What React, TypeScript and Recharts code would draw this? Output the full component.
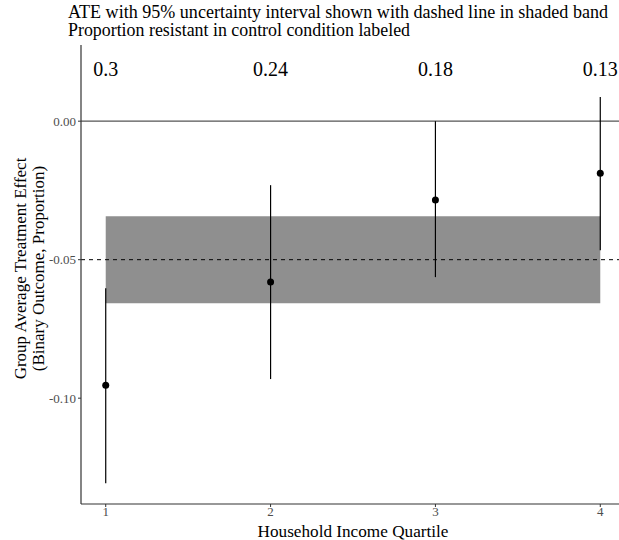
import {
  ComposedChart,
  Scatter,
  ErrorBar,
  XAxis,
  YAxis,
  ReferenceArea,
  ReferenceLine,
} from "recharts";

const quartiles = [1, 2, 3, 4];
const ate = [-0.0953, -0.0581, -0.0285, -0.0188];
const lower = [-0.1307, -0.0931, -0.0563, -0.0466];
const upper = [-0.0603, -0.0231, 0.0, 0.0087];
const controlProp = ["0.3", "0.24", "0.18", "0.13"];

const overallAte = -0.05;
const overallLow = -0.0657;
const overallHigh = -0.0343;
const labelY = 0.019;

const yTicks = [-0.1, -0.05, 0];

const subtitle1 = "ATE with 95% uncertainty interval shown with dashed line in shaded band";
const subtitle2 = "Proportion resistant in control condition labeled";

const FONT = "Liberation Serif, Times New Roman, serif";

const points = quartiles.map((q, i) => ({
  q,
  ate: ate[i],
  err: [ate[i] - lower[i], upper[i] - ate[i]],
}));

const labels = quartiles.map((q, i) => ({ q, y: labelY, text: controlProp[i] }));

const YLabel = (props: any) => {
  const vb = props.viewBox || {};
  const cy = vb.y + vb.height / 2 - 6;
  return (
    <g style={{ fontFamily: FONT }} fontSize={17} fill="#000">
      <text x={26} y={cy} textAnchor="middle" transform={`rotate(-90, 26, ${cy})`}>
        Group Average Treatment Effect
      </text>
      <text x={44} y={cy} textAnchor="middle" transform={`rotate(-90, 44, ${cy})`}>
        (Binary Outcome, Proportion)
      </text>
    </g>
  );
};

const App = () => {
  return (
    <div style={{ position: "absolute", left: 0, top: 0, width: 619, height: 540, overflow: "hidden", background: "#fff", fontFamily: FONT }}>
      <svg width={619} height={42} style={{ position: "absolute", left: 0, top: 0 }}>
        <g style={{ fontFamily: FONT }} fontSize={18} fill="#000">
          <text x={68} y={18} textLength={540} lengthAdjust="spacingAndGlyphs">{subtitle1}</text>
          <text x={68} y={36} textLength={342} lengthAdjust="spacingAndGlyphs">{subtitle2}</text>
        </g>
      </svg>
      <ComposedChart
        width={625}
        height={540}
        margin={{ top: 45, right: 0, bottom: 0, left: 0 }}
        style={{ position: "absolute", left: 0, top: 0, fontFamily: FONT }}
      >
        <XAxis
          dataKey="q"
          type="number"
          domain={[0.85, 4.15]}
          ticks={quartiles}
          height={36}
          axisLine={{ stroke: "#333", strokeWidth: 1.2 }}
          tickLine={{ stroke: "#333" }}
          tickSize={3}
          tickMargin={0}
          tick={{ fill: "#4d4d4d", fontSize: 13, style: { fontFamily: FONT } }}
          label={{ value: "Household Income Quartile", position: "insideBottom", offset: 3, fill: "#000", fontSize: 17.2, style: { fontFamily: FONT } }}
          allowDataOverflow
        />
        <YAxis
          type="number"
          domain={[-0.1382, 0.0275]}
          ticks={yTicks}
          width={81}
          tickFormatter={(v: number) => v.toFixed(2)}
          axisLine={{ stroke: "#333", strokeWidth: 1.2 }}
          tickLine={{ stroke: "#333" }}
          tickSize={3}
          tick={{ fill: "#4d4d4d", fontSize: 13, style: { fontFamily: FONT } }}
          label={<YLabel />}
          allowDataOverflow
        />
        <ReferenceArea x1={1} x2={4} y1={overallLow} y2={overallHigh} fill="#8f8f8f" fillOpacity={1} stroke="none" />
        <ReferenceLine y={0} stroke="#555" strokeWidth={1.2} />
        <ReferenceLine y={overallAte} stroke="#000" strokeDasharray="4 4" strokeWidth={1} />
        <Scatter data={points} dataKey="ate" fill="#000" isAnimationActive={false}
          shape={(p: any) => <circle cx={p.cx} cy={p.cy} r={3.5} fill="#000" />}>
          <ErrorBar dataKey="err" direction="y" width={0} stroke="#000" strokeWidth={1.2} isAnimationActive={false} />
        </Scatter>
        <Scatter data={labels} dataKey="y" isAnimationActive={false}
          shape={(p: any) => (
            <text x={p.cx} y={p.cy} textAnchor="middle" dominantBaseline="central" style={{ fontFamily: FONT }} fontSize={20} fill="#000">
              {p.payload.text}
            </text>
          )}
        />
      </ComposedChart>
    </div>
  );
};

export default App;
